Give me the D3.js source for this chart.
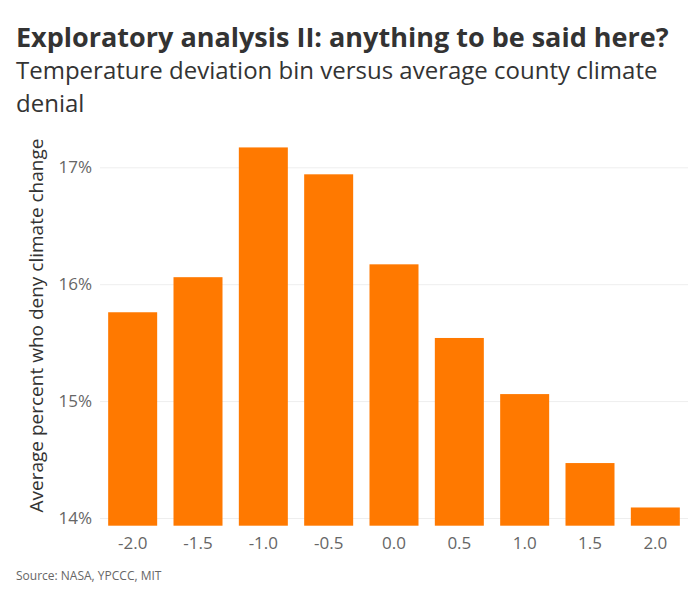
<!DOCTYPE html>
<html><head><meta charset="utf-8">
<script src="https://cdn.jsdelivr.net/npm/d3@7"></script>
<style>body{margin:0;background:#fff;} text{font-family:"Open Sans",sans-serif;}</style>
</head><body>
<svg id="chart" width="700" height="600"></svg>
<script>
const categories = ["-2.0","-1.5","-1.0","-0.5","0.0","0.5","1.0","1.5","2.0"];
const values = [15.76, 16.06, 17.17, 16.94, 16.17, 15.54, 15.06, 14.47, 14.09];
const yTicks = [14, 15, 16, 17];

const svg = d3.select("#chart");
const left = 100, right = 688, bottom = 525.7;
const x = d3.scaleBand().domain(categories).range([left, right]).paddingInner(0.25).paddingOuter(0.125);
const y = d3.scaleLinear().domain([14, 17]).range([518, 167.3]);
const yBase = y.invert(bottom);

svg.append("text").attr("x", 16).attr("y", 47).attr("font-size", 27).attr("font-weight", 700).attr("fill", "#333")
  .text("Exploratory analysis II: anything to be said here?");
svg.append("text").attr("x", 16).attr("y", 79).attr("font-size", 24).attr("fill", "#333")
  .text("Temperature deviation bin versus average county climate");
svg.append("text").attr("x", 16).attr("y", 111.5).attr("font-size", 24).attr("fill", "#333")
  .text("denial");

const ya = svg.append("g").attr("transform", `translate(${left},0)`)
  .call(d3.axisLeft(y).tickValues(yTicks).tickSize(-(right-left)).tickFormat(d => d + "%"));
ya.select(".domain").remove();
ya.selectAll("line").attr("stroke", "#eee").attr("stroke-width", 1);
ya.selectAll("text").attr("x", -8).attr("font-size", 17).attr("fill", "#666").attr("font-family", "Open Sans");

svg.selectAll("rect.bar").data(values).join("rect").attr("class", "bar")
  .attr("x", (d, i) => x(categories[i])).attr("width", x.bandwidth())
  .attr("y", d => y(d)).attr("height", d => y(yBase) - y(d))
  .attr("fill", "#ff7900");

const xa = svg.append("g").attr("transform", `translate(0,${bottom})`)
  .call(d3.axisBottom(x).tickSize(0).tickPadding(11));
xa.select(".domain").remove();
xa.selectAll("text").attr("font-size", 17).attr("fill", "#666").attr("font-family", "Open Sans");

svg.append("text").attr("transform", "translate(43,325.5) rotate(-90)").attr("text-anchor", "middle")
  .attr("font-size", 19).attr("fill", "#333").text("Average percent who deny climate change");

svg.append("text").attr("x", 16).attr("y", 580).attr("font-size", 12).attr("fill", "#666")
  .text("Source: NASA, YPCCC, MIT");
</script>
</body></html>
